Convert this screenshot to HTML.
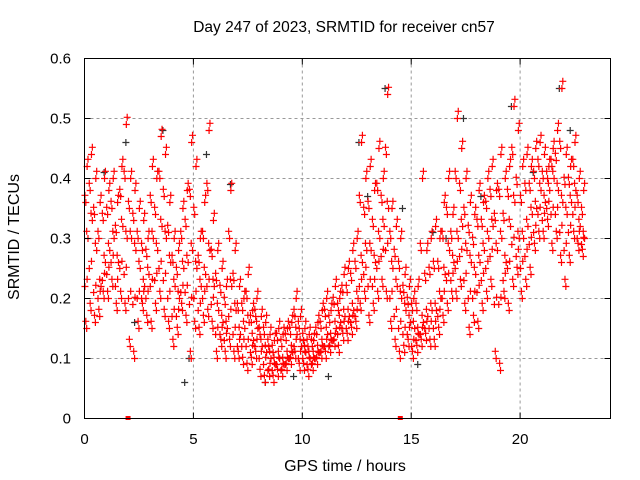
<!DOCTYPE html>
<html><head><meta charset="utf-8"><style>
body{margin:0;background:#fff}
svg{display:block;font-family:"Liberation Sans",sans-serif}
</style></head><body>
<svg id="chart" width="640" height="480" viewBox="0 0 640 480">
<rect width="640" height="480" fill="#fff"/>
<text x="344" y="32" font-size="15.5" text-anchor="middle">Day 247 of 2023, SRMTID for receiver cn57</text>
<g id="grid"></g>
<g id="black"></g>
<g id="red"></g>
<rect x="84.5" y="58.5" width="526" height="360" fill="none" stroke="#000"/>
<g id="ticks"></g>
<text x="345" y="471" font-size="16" text-anchor="middle">GPS time / hours</text>
<text transform="translate(19,237) rotate(-90)" font-size="16" text-anchor="middle">SRMTID / TECUs</text>
</svg>
<script>
const xTicks=[0,5,10,15,20];
const yTicks=[0,0.1,0.2,0.3,0.4,0.5,0.6];
const tStart=0, tStep=0.2;
const hiVals=[.42,.44,.40,.36,.40,.38,.40,.36,.42,.49,.40,.38,.35,.33,.30,.42,.40,.47,.44,.36,.30,.28,.35,.38,.46,.42,.30,.36,.48,.33,.28,.25,.22,.38,.28,.22,.20,.24,.18,.20,.17,.16,.14,.13,.15,.14,.15,.16,.20,.17,.15,.14,.13,.16,.18,.20,.18,.22,.20,.24,.25,.28,.30,.46,.40,.42,.38,.45,.40,.54,.35,.32,.30,.24,.22,.20,.22,.40,.28,.30,.32,.30,.36,.40,.34,.50,.45,.40,.36,.34,.38,.36,.40,.42,.38,.44,.40,.42,.52,.48,.42,.44,.42,.45,.46,.44,.42,.45,.48,.55,.44,.42,.46,.40,.38];
const q3Vals=[.36,.38,.34,.30,.33,.34,.35,.31,.37,.40,.35,.33,.30,.28,.27,.36,.34,.40,.37,.31,.26,.24,.30,.32,.37,.34,.26,.30,.38,.27,.23,.21,.19,.30,.23,.18,.18,.20,.16,.17,.14,.14,.12,.11,.13,.12,.13,.14,.17,.15,.13,.12,.12,.14,.15,.17,.16,.19,.18,.21,.21,.23,.25,.36,.34,.35,.32,.38,.36,.44,.30,.27,.25,.21,.19,.18,.18,.28,.23,.24,.25,.25,.30,.34,.30,.40,.38,.34,.31,.29,.32,.32,.35,.37,.33,.37,.33,.37,.44,.39,.36,.38,.38,.40,.42,.40,.40,.42,.43,.45,.39,.39,.42,.36,.34];
const midVals=[.30,.33,.28,.22,.26,.28,.30,.26,.32,.30,.30,.28,.25,.22,.24,.30,.28,.32,.30,.26,.22,.20,.25,.26,.28,.25,.22,.24,.28,.22,.18,.16,.15,.22,.18,.14,.15,.16,.13,.15,.12,.11,.10,.09,.10,.09,.10,.11,.14,.12,.11,.10,.10,.11,.12,.14,.13,.15,.16,.17,.17,.18,.20,.26,.28,.28,.26,.30,.32,.35,.25,.22,.20,.18,.16,.15,.14,.16,.17,.18,.18,.20,.24,.28,.26,.30,.32,.28,.26,.24,.26,.28,.30,.32,.28,.30,.26,.32,.36,.30,.30,.32,.34,.35,.38,.36,.38,.40,.38,.36,.34,.36,.38,.32,.30];
const q1Vals=[.22,.25,.21,.20,.23,.24,.26,.22,.25,.24,.20,.19,.20,.20,.20,.22,.23,.25,.23,.20,.17,.17,.21,.21,.19,.20,.18,.20,.22,.19,.14,.14,.13,.17,.14,.12,.12,.12,.11,.12,.10,.09,.08,.08,.09,.08,.09,.10,.12,.10,.10,.09,.09,.10,.11,.12,.12,.13,.14,.15,.15,.16,.17,.22,.24,.22,.22,.25,.27,.28,.20,.17,.15,.14,.14,.12,.13,.14,.15,.15,.15,.17,.20,.23,.23,.25,.27,.23,.20,.20,.21,.23,.25,.27,.19,.19,.23,.25,.29,.27,.25,.27,.29,.31,.34,.33,.35,.34,.34,.31,.28,.31,.34,.30,.29];
const loVals=[.15,.18,.16,.17,.20,.20,.22,.18,.20,.18,.12,.10,.15,.18,.16,.15,.18,.20,.17,.15,.12,.14,.18,.16,.10,.15,.14,.16,.17,.15,.10,.12,.10,.12,.10,.10,.09,.08,.09,.10,.07,.06,.07,.06,.07,.07,.08,.09,.10,.08,.08,.07,.08,.09,.10,.10,.11,.12,.11,.13,.13,.14,.15,.18,.20,.16,.18,.20,.22,.20,.15,.12,.10,.11,.12,.10,.11,.12,.13,.12,.12,.14,.16,.18,.20,.20,.22,.18,.14,.16,.15,.18,.20,.22,.10,.08,.20,.18,.22,.24,.20,.22,.24,.28,.30,.30,.32,.28,.30,.26,.22,.26,.30,.28,.27];
const blackT=[0.9,1.9,3.6,4.6,5.6,6.7,8.3,9.6,12.6,13.0,13.8,14.6,15.3,16.6,17.4,18.2,19.6,20.6,21.8,22.3,2.3,4.8,11.2,16.0];
const blackV=[0.41,0.46,0.48,0.06,0.44,0.39,0.06,0.07,0.46,0.37,0.55,0.35,0.09,0.30,0.50,0.37,0.52,0.41,0.55,0.48,0.16,0.10,0.07,0.31];
const zeroT=[2.0,14.5];

const X0=84.5,X1=610.5,Y0=418.5,Y1=58.5,XMAX=24.15,YMAX=0.6;
const xs=t=>X0+(t/XMAX)*(X1-X0);
const ys=v=>Y0-(v/YMAX)*(Y0-Y1);
const NS='http://www.w3.org/2000/svg';
function mk(tag,attrs,parent){const e=document.createElementNS(NS,tag);for(const k in attrs)e.setAttribute(k,attrs[k]);parent.appendChild(e);return e;}
const grid=document.getElementById('grid'),ticks=document.getElementById('ticks');
xTicks.forEach(t=>{const x=xs(t);
 if(t>0){const g=mk('line',{x1:x,x2:x,y1:Y1,y2:Y0,stroke:'#999','stroke-dasharray':'3,3'},grid);
 
 }
 mk('line',{x1:x,x2:x,y1:Y0,y2:Y0-6,stroke:'#000'},ticks);
 mk('line',{x1:x,x2:x,y1:Y1,y2:Y1+6,stroke:'#000'},ticks);
 const l=mk('text',{x:x,y:444,'font-size':15,'text-anchor':'middle'},ticks);l.textContent=t;
 
 });
yTicks.forEach(v=>{const y=ys(v);
 if(v>0&&v<0.6){const g=mk('line',{x1:X0,x2:X1,y1:y,y2:y,stroke:'#999','stroke-dasharray':'3,3'},grid);
 
 }
 mk('line',{x1:X0,x2:X0+6,y1:y,y2:y,stroke:'#000'},ticks);
 mk('line',{x1:X1,x2:X1-6,y1:y,y2:y,stroke:'#000'},ticks);
 const l=mk('text',{x:71,y:y+5,'font-size':15,'text-anchor':'end'},ticks);l.textContent=v===0?'0':v.toFixed(1);
 
 });
function plus(t,v,col,parent){const x=xs(t),y=ys(v);
 const p=mk('path',{d:`M${x-3.5},${y}h7M${x},${y-3.5}v7`,stroke:col,'stroke-width':1.2,fill:'none'},parent);
 
 }
const black=document.getElementById('black'),red=document.getElementById('red');
blackT.forEach((t,i)=>plus(t,blackV[i],'#333',black));
const series=[loVals,q1Vals,midVals,q3Vals,hiVals];
const offs=[0.1,0.02,0.16,0.06,0.12];
series.forEach((arr,s)=>arr.forEach((v,i)=>{const t=tStart+i*tStep;
 plus(t+offs[s],v,'#f00',red);
 plus(t+offs[(s+3)%5],v+0.012,'#f00',red);
}));
zeroT.forEach(t=>{const r=mk('rect',{x:xs(t)-2.5,y:Y0-2.5,width:5,height:4,fill:'#f00'},red);
 
 });
</script>
</body></html>
